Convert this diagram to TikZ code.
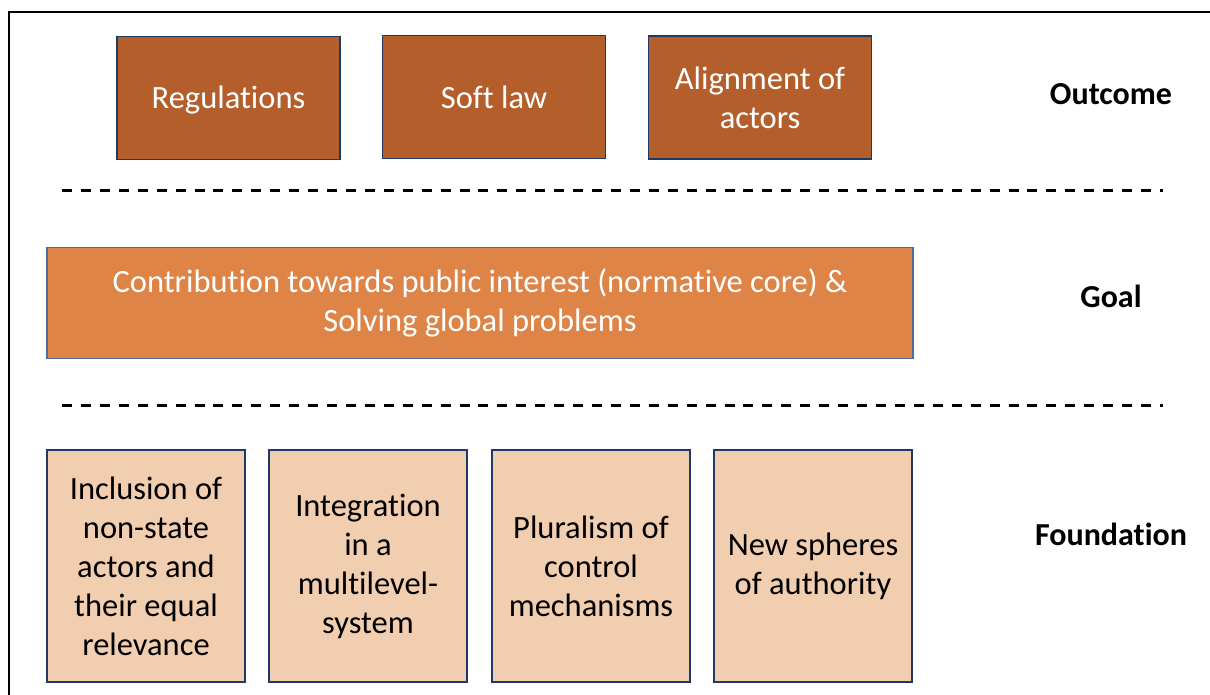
\documentclass[tikz,border=0pt]{standalone}
\usepackage{fontspec}
\setmainfont[Ligatures={NoCommon}]{Carlito}
\definecolor{outfill}{HTML}{B45F2B}
\definecolor{goalfill}{HTML}{DF8447}
\definecolor{fndfill}{HTML}{F2CEB1}
\definecolor{navy}{HTML}{1F3864}
\definecolor{goalline}{HTML}{4A6DAA}
\begin{document}
\begin{tikzpicture}[x=1pt,y=-1pt,
  outbox/.style={draw=navy,line width=1.6pt,fill=outfill,text=white,align=center,inner sep=0pt,minimum width=223pt,minimum height=123pt,font=\fontsize{32.5}{39}\selectfont},
  goalbox/.style={draw=goalline,line width=1.6pt,fill=goalfill,text=white,align=center,inner sep=0pt,minimum width=866pt,minimum height=111pt,font=\fontsize{32.5}{39}\selectfont},
  fndbox/.style={draw=navy,line width=1.6pt,fill=fndfill,text=black,align=center,inner sep=0pt,minimum width=198pt,minimum height=232pt,font=\fontsize{32.5}{39}\selectfont},
  layer/.style={font=\fontsize{32}{38}\selectfont\bfseries,text=black},
  sep/.style={line width=3pt,dash pattern=on 10pt off 8.93pt}]
\useasboundingbox (0,0) rectangle (1210,695);
\coordinate (fa) at (9,697);
\coordinate (fb) at (9,12);
\coordinate (fc) at (1212,12);
\draw[line width=1.8pt] (fa) -- (fb) -- (fc);
% outcome
\node[outbox,text height=29pt,text depth=7pt] (reg) at (228.5,98) {Regulations};
\node[outbox] (soft) at (494,97) {Soft law};
\node[outbox] (align) at (760,97.5) {Alignment of\\actors};
\node[layer] (outl) at (1111,94) {Outcome};
% separators
\coordinate (s1a) at (62,191);
\coordinate (s1b) at (1163,191);
\draw[sep] (s1a) -- (s1b);
\coordinate (s2a) at (62,405);
\coordinate (s2b) at (1163,405);
\draw[sep] (s2a) -- (s2b);
% goal
\node[goalbox] (goal) at (480,303) {Contribution towards public interest (normative core) \&\\Solving global problems};
\node[layer] (goall) at (1111,296) {Goal};
% foundation
\node[fndbox] (f1) at (146,566) {Inclusion of\\non-state\\actors and\\their equal\\relevance};
\node[fndbox] (f2) at (368,566) {Integration\\in a\\multilevel-\\system};
\node[fndbox] (f3) at (591,566) {Pluralism of\\control\\mechanisms};
\node[fndbox] (f4) at (813,566) {New spheres\\of authority};
\node[layer] (fndl) at (1111,534) {Foundation};
\end{tikzpicture}
\end{document}
